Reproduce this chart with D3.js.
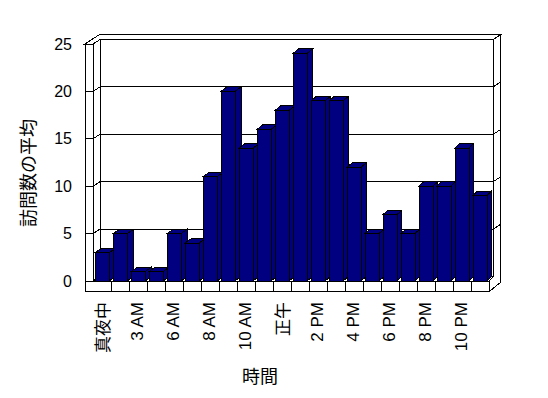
<!DOCTYPE html>
<html>
<head>
<meta charset="utf-8">
<script src="https://cdn.jsdelivr.net/npm/d3@7"></script>
<style>
  body { margin: 0; background: #fff; }
  svg { display: block; }
  text { font-family: "Liberation Sans", Arial, "Noto Sans CJK JP", sans-serif; fill: #000; }
  text.cjk { font-family: "Noto Sans CJK JP", "Liberation Sans", sans-serif; }
</style>
</head>
<body>
<div id="chart"></div>
<script>
// average visits per hour slot
const visits = [3, 5, 1, 1, 5, 4, 11, 20, 14, 16, 18, 24, 19, 19, 12, 5, 7, 5, 10, 10, 14, 9];
// labels shown on every other slot
const tickLabels = ['真夜中', '3 AM', '6 AM', '8 AM', '10 AM', '正午', '2 PM', '4 PM', '6 PM', '8 PM', '10 PM'];
const yTicks = [0, 5, 10, 15, 20, 25];
const yTitle = '訪問数の平均';
const xTitle = '時間';

const width = 548, height = 398;
const front = {left: 93, right: 489, top: 44, bottom: 281};
const sideWall = 8;      // front face width of the left wall
const floorH = 10.7;     // front face height of the floor
const depthY = -4.5;     // depth offset, vertical
const depthLeft = 7, depthRight = 4.3; // depth offset, horizontal (a bit of perspective)
const thick = {x: 7.5, y: -5};         // back wall thickness
const barInset = 2, barW = 14;
const barColor = '#000080';

const svg = d3.select('#chart').append('svg')
  .attr('width', width)
  .attr('height', height)
  .attr('shape-rendering', 'crispEdges');

const x = d3.scaleBand()
  .domain(d3.range(visits.length))
  .range([front.left, front.right]);

const y = d3.scaleLinear()
  .domain([0, 25])
  .range([front.bottom, front.top]);

const dxAt = px => depthLeft + (depthRight - depthLeft) * (px - front.left) / (front.right - front.left);
const isCjk = s => /[\u3000-\u9fff]/.test(s);

const L = front.left, R = front.right, T = y(25), B = y(0);
const backLeft = L + dxAt(L), backRight = R + dxAt(R);
const backTop = T + depthY, backBottom = B + depthY;
const outerTop = backTop + thick.y;
const outerLeft = L - sideWall + dxAt(L) + thick.x;
const outerRight = backRight + thick.x;
const outerBottom = B + floorH + depthY + thick.y;

const walls = svg.append('g')
  .attr('fill', '#fff')
  .attr('stroke', '#000')
  .attr('stroke-width', 1);

const poly = (g, pts) => g.append('polygon').attr('points', pts.map(p => p.join(',')).join(' '));

// top of the walls
poly(walls, [[L - sideWall, T], [L, T], [backLeft, backTop], [backRight, backTop], [outerRight, outerTop], [outerLeft, outerTop]]);
// back wall
poly(walls, [[backLeft, backTop], [backRight, backTop], [backRight, backBottom], [backLeft, backBottom]]);
// side wall, inner face and front face
poly(walls, [[L, T], [backLeft, backTop], [backLeft, backBottom], [L, B]]);
poly(walls, [[L - sideWall, T], [L, T], [L, B], [L - sideWall, B]]);
// floor
poly(walls, [[L, B], [R, B], [backRight, backBottom], [backLeft, backBottom]]);
poly(walls, [[L - sideWall, B], [R, B], [R, B + floorH], [L - sideWall, B + floorH]]);
// right end of back wall and floor
poly(walls, [[R, B], [backRight, backBottom], [backRight, backTop], [outerRight, outerTop], [outerRight, outerBottom], [R, B + floorH]]);

// gridlines
const gridVals = yTicks.slice(1, -1);
const grid = svg.append('g').attr('stroke', '#000').attr('stroke-width', 1);
gridVals.forEach(v => {
  const yf = y(v), yb = y(v) + depthY;
  grid.append('line').attr('x1', backLeft).attr('x2', backRight).attr('y1', yb).attr('y2', yb);
  grid.append('line').attr('x1', L).attr('x2', backLeft).attr('y1', yf).attr('y2', yb);
  grid.append('line').attr('x1', L - sideWall).attr('x2', L).attr('y1', yf).attr('y2', yf);
  grid.append('line').attr('x1', backRight).attr('x2', outerRight).attr('y1', yb).attr('y2', yb + thick.y);
});

// floor separators between slots
grid.selectAll('.sep')
  .data(d3.range(1, visits.length))
  .enter()
  .append('line')
  .attr('x1', d => x(d))
  .attr('x2', d => x(d))
  .attr('y1', B)
  .attr('y2', B + floorH);

// bars
const bars = svg.append('g')
  .attr('fill', barColor)
  .attr('stroke', '#000')
  .attr('stroke-width', 1);

visits.forEach((v, i) => {
  const x0 = x(i) + barInset, x1 = x0 + barW, yt = y(v);
  const dx = dxAt(x1);
  const g = bars.append('g');
  poly(g, [[x1, yt], [x1 + dx, yt + depthY], [x1 + dx, B + depthY], [x1, B]]);
  poly(g, [[x0, yt], [x0 + dx, yt + depthY], [x1 + dx, yt + depthY], [x1, yt]]);
  poly(g, [[x0, yt], [x1, yt], [x1, B], [x0, B]]);
});

// y axis labels
const yAxis = svg.append('g')
  .attr('transform', 'translate(72,0)')
  .attr('font-family', null)
  .call(d3.axisLeft(y).tickValues(yTicks).tickSize(0).tickPadding(0));
yAxis.select('.domain').remove();
yAxis.attr('font-family', null);
yAxis.selectAll('text')
  .attr('font-size', 16)
  .attr('fill', '#000');

// x labels, every other slot
svg.append('g')
  .selectAll('text')
  .data(tickLabels)
  .enter()
  .append('text')
  .attr('class', d => isCjk(d) ? 'cjk' : null)
  .attr('transform', (d, k) => `translate(${x(k * 2) + x.bandwidth() / 2 - 1},302) rotate(-90)`)
  .attr('text-anchor', 'end')
  .attr('dominant-baseline', 'central')
  .attr('font-size', 17)
  .style('fill', '#000')
  .text(d => d);

// titles
svg.append('text')
  .attr('class', 'cjk')
  .attr('x', 260)
  .attr('y', 375)
  .attr('text-anchor', 'middle')
  .attr('dominant-baseline', 'central')
  .attr('font-size', 18)
  .text(xTitle);

svg.append('text')
  .attr('class', 'cjk')
  .attr('transform', 'translate(27,173) rotate(-90)')
  .attr('text-anchor', 'middle')
  .attr('dominant-baseline', 'central')
  .attr('font-size', 18)
  .text(yTitle);
</script>
</body>
</html>
